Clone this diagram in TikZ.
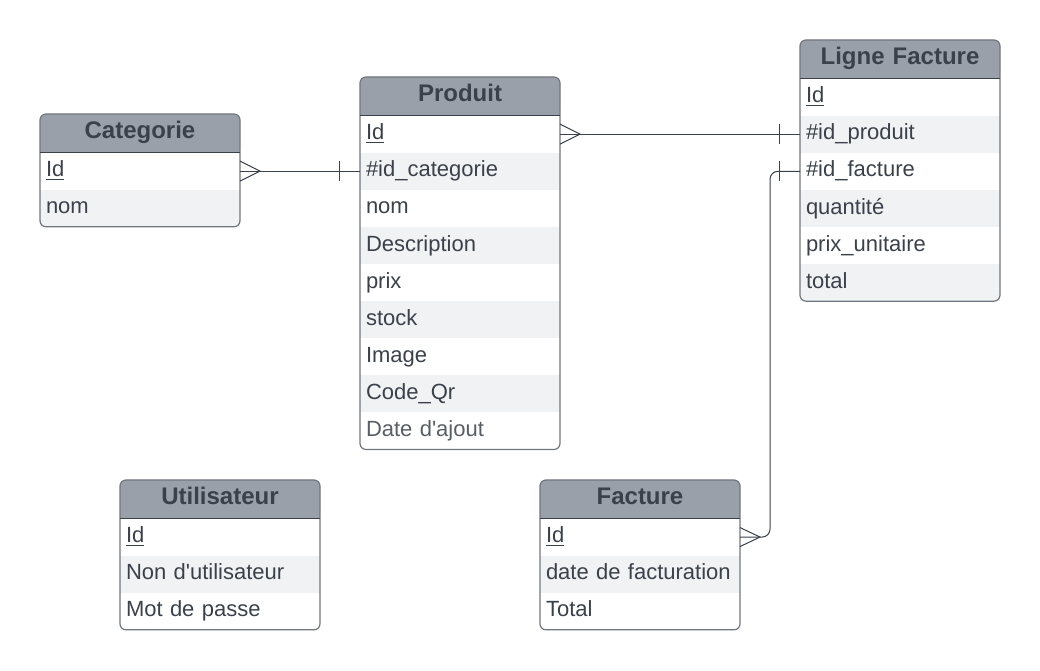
\documentclass[tikz,border=0pt]{standalone}
\usepackage{fontspec}
\setmainfont{Liberation Sans}[Ligatures=TeXOff]
\usetikzlibrary{positioning, calc, backgrounds}
\definecolor{headgray}{HTML}{9AA0A9}
\definecolor{rowgray}{HTML}{F1F2F4}
\definecolor{inkgray}{HTML}{3A414A}
\definecolor{edgegray}{HTML}{71767E}

\begin{document}
\begin{tikzpicture}[
        x=0.75pt,
        y=-0.75pt,
        head/.style={text width=141pt,inner xsep=4.5pt,inner ysep=0pt,outer sep=0pt,minimum height=28.9pt,align=center,
            text=inkgray,font=\fontsize{18}{20}\selectfont\bfseries,text height=12.5pt,text depth=4.7pt},
        field/.style={text width=141pt,inner xsep=4.5pt,inner ysep=0pt,outer sep=0pt,minimum height=27.83pt,align=left,
            text=inkgray,font=\fontsize{16.5}{19}\selectfont,text height=12pt,text depth=3.5pt},
        stripe/.style={field,fill=rowgray},
        edge/.style={edgegray,line width=0.9pt,rounded corners=4.5pt},
        link/.style={inkgray,line width=0.75pt}
    ]
        \useasboundingbox (0,0) rectangle (1040,671);

        % Categorie
        \node[head] (cat) at (140,133.25) {Categorie};
        \node[field,below=0pt of cat] (cat-id) {\underline{Id}};
        \node[stripe,below=0pt of cat-id] (cat-nom) {nom};

        % Produit
        \node[head] (prod) at (460,96.25) {Produit};
        \node[field,below=0pt of prod] (prod-id) {\underline{Id}};
        \node[stripe,below=0pt of prod-id] (prod-idcat) {\#id\_categorie};
        \node[field,below=0pt of prod-idcat] (prod-nom) {nom};
        \node[stripe,below=0pt of prod-nom] (prod-desc) {Description};
        \node[field,below=0pt of prod-desc] (prod-prix) {prix};
        \node[stripe,below=0pt of prod-prix] (prod-stock) {stock};
        \node[field,below=0pt of prod-stock] (prod-img) {Image};
        \node[stripe,below=0pt of prod-img] (prod-qr) {Code\_Qr};
        \node[field,below=0pt of prod-qr,text=inkgray!85] (prod-date) {Date d'ajout};

        % Ligne Facture
        \node[head] (lf) at (900,59.25) {Ligne Facture};
        \node[field,below=0pt of lf] (lf-id) {\underline{Id}};
        \node[stripe,below=0pt of lf-id] (lf-idprod) {\#id\_produit};
        \node[field,below=0pt of lf-idprod] (lf-idfact) {\#id\_facture};
        \node[stripe,below=0pt of lf-idfact] (lf-qte) {quantité};
        \node[field,below=0pt of lf-qte] (lf-pu) {prix\_unitaire};
        \node[stripe,below=0pt of lf-pu] (lf-total) {total};

        % Utilisateur
        \node[head] (user) at (220,499.25) {Utilisateur};
        \node[field,below=0pt of user] (user-id) {\underline{Id}};
        \node[stripe,below=0pt of user-id] (user-nom) {Non d'utilisateur};
        \node[field,below=0pt of user-nom] (user-mdp) {Mot de passe};

        % Facture
        \node[head] (fact) at (640,499.25) {Facture};
        \node[field,below=0pt of fact] (fact-id) {\underline{Id}};
        \node[stripe,below=0pt of fact-id] (fact-date) {date de facturation};
        \node[field,below=0pt of fact-date] (fact-total) {Total};

        \begin{scope}[on background layer]
            \foreach \t in {cat,prod,lf,user,fact} {
                \fill[headgray,rounded corners=4.5pt] (\t.north west) rectangle (\t.south east);
                \fill[headgray] (\t.west) rectangle (\t.south east);
            }
        \end{scope}

        % table frames
        \draw[edge] (cat.north west) rectangle (cat-nom.south east);
        \draw[edge] (prod.north west) rectangle (prod-date.south east);
        \draw[edge] (lf.north west) rectangle (lf-total.south east);
        \draw[edge] (user.north west) rectangle (user-mdp.south east);
        \draw[edge] (fact.north west) rectangle (fact-total.south east);
        \foreach \t in {cat,prod,lf,user,fact}
            \draw[inkgray,line width=0.9pt] (\t.south west) -- (\t.south east);

        % relations
        \draw[link] (cat-id.east) -- (cat-id.east -| prod-idcat.west);
        \draw[link] ($(cat-id.east)+(0,-10)$) -- ($(cat-id.east)+(20,0)$) -- ($(cat-id.east)+(0,10)$);
        \draw[link] ($(prod-idcat.west)+(-21,-10)$) -- ($(prod-idcat.west)+(-21,10)$);

        \draw[link] (prod-id.east) -- (prod-id.east -| lf-idprod.west);
        \draw[link] ($(prod-id.east)+(0,-10)$) -- ($(prod-id.east)+(20,0)$) -- ($(prod-id.east)+(0,10)$);
        \draw[link] ($(lf-idprod.west)+(-21,-10)$) -- ($(lf-idprod.west)+(-21,10)$);

        \draw[link,rounded corners=6pt] (fact-id.east) -| ($(lf-idfact.west)+(-30,0)$) -- (lf-idfact.west);
        \draw[link] ($(fact-id.east)+(0,-9.5)$) -- ($(fact-id.east)+(20,0)$) -- ($(fact-id.east)+(0,9.5)$);
        \draw[link] ($(lf-idfact.west)+(-21,-10)$) -- ($(lf-idfact.west)+(-21,10)$);
    \end{tikzpicture}
\end{document}
